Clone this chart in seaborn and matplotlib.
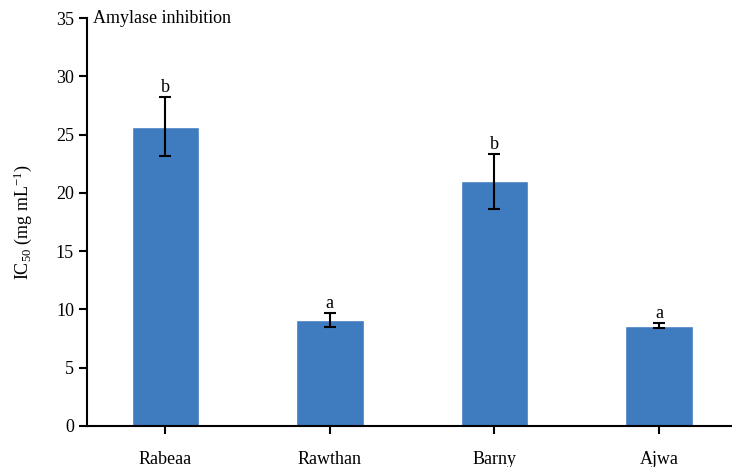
import matplotlib
matplotlib.use("Agg")
import matplotlib.pyplot as plt
import seaborn as sns
import pandas as pd

categories = ["Rabeaa", "Rawthan", "Barny", "Ajwa"]
ic50 = [25.7, 9.1, 21.0, 8.6]
err = [2.5, 0.6, 2.35, 0.2]
letters = ["b", "a", "b", "a"]
yticks = [0, 5, 10, 15, 20, 25, 30, 35]

sns.set_style("ticks")
plt.rcParams["font.family"] = ["Liberation Serif", "DejaVu Serif"]
plt.rcParams["mathtext.fontset"] = "custom"
plt.rcParams["mathtext.rm"] = "Liberation Serif"
plt.rcParams["mathtext.it"] = "Liberation Serif:italic"
plt.rcParams["text.color"] = "black"
plt.rcParams["axes.labelcolor"] = "black"
plt.rcParams["xtick.color"] = "black"
plt.rcParams["ytick.color"] = "black"
plt.rcParams["axes.edgecolor"] = "black"

df = pd.DataFrame({"cat": categories, "val": ic50})

fig = plt.figure(figsize=(7.32, 4.67), dpi=100)
ax = fig.add_axes([0.119, 0.088, 0.905, 0.873])
sns.barplot(data=df, x="cat", y="val", color="#3F7BBF", saturation=1,
            width=0.41, errorbar=None, ax=ax)
ax.errorbar(range(len(categories)), ic50, yerr=err, fmt="none",
            ecolor="black", elinewidth=1.5, capsize=4.5, capthick=1.5)
for i, (v, e, l) in enumerate(zip(ic50, err, letters)):
    ax.text(i, v + e + 0.1, l, ha="center", va="bottom", fontsize=13)

ax.set_xlim(-0.475, 3.55)
ax.set_ylim(0, 35)
ax.set_yticks(yticks)
ax.set_xlabel("")
ax.set_ylabel(r"IC$_{50}$ (mg mL$^{-1}$)", fontsize=13, labelpad=16)
ax.text(-0.44, 35, "Amylase inhibition", fontsize=13, va="center", ha="left")
for s in ["top", "right"]:
    ax.spines[s].set_visible(False)
for s in ["left", "bottom"]:
    ax.spines[s].set_linewidth(1.5)
ax.tick_params(axis="y", labelsize=13, length=6, width=1.5, direction="out")
ax.tick_params(axis="x", labelsize=13, length=6, width=1.5, direction="out", pad=12)
fig.savefig("out.png", dpi=100)
